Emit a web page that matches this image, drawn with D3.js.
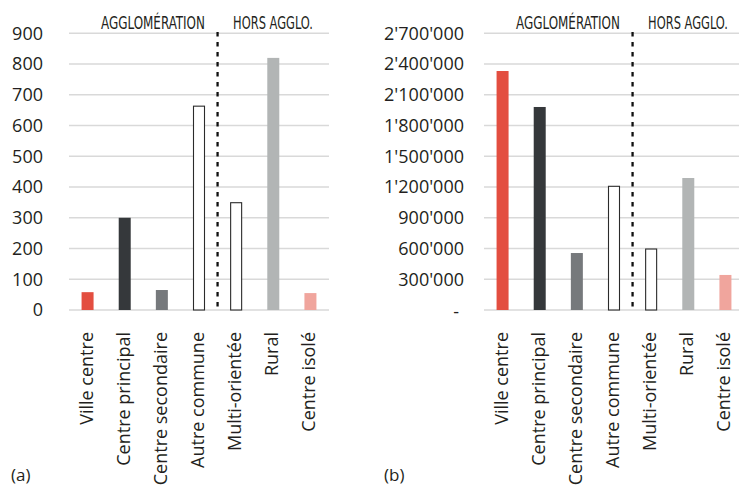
<!DOCTYPE html>
<html>
<head>
<meta charset="utf-8">
<script src="https://cdn.jsdelivr.net/npm/d3@7"></script>
<style>
  html, body { margin: 0; padding: 0; background: #fff; }
  svg { display: block; }
  text { font-family: "Open Sans", "Noto Sans", sans-serif; fill: #231f20; }
  .hdr { font-family: "Liberation Sans Narrow", "DejaVu Sans Condensed", "Roboto", sans-serif; }
</style>
</head>
<body>
<svg id="chart" width="739" height="488"></svg>
<script>
// Commune types, split into agglomeration and outside-agglomeration groups
const categories = ["Ville centre", "Centre principal", "Centre secondaire", "Autre commune",
                    "Multi-orientée", "Rural", "Centre isolé"];
const groupLabels = ["AGGLOMÉRATION", "HORS AGGLO."];
const agglomerationCount = 4;

// (a) number of communes, (b) population
const countValues = [58, 300, 65, 663, 349, 820, 55];
const populationValues = [2332000, 1981000, 556000, 1207000, 595000, 1288000, 342000];

const countTicks = [0, 100, 200, 300, 400, 500, 600, 700, 800, 900];
const populationTicks = [0, 300000, 600000, 900000, 1200000, 1500000, 1800000, 2100000, 2400000, 2700000];
const panelLabels = ["(a)", "(b)"];

const fills = ["#e34e40", "#35383b", "#76797c", "#ffffff", "#ffffff", "#b2b5b5", "#f0a59d"];
const outlined = [false, false, false, true, true, false, false];

const svg = d3.select("#chart");
const swiss = d3.formatLocale({ decimal: ".", thousands: "'", grouping: [3], currency: ["", ""] });
const fmtPop = v => v === 0 ? "-" : swiss.format(",")(v);

// condensed header: squeeze horizontally to a given width
function header(g, label, x0, width) {
  const t = g.append("text").attr("class", "hdr").attr("x", 0).attr("y", 0)
    .style("font-size", "17.5px").text(label);
  const natural = t.node().getComputedTextLength();
  t.attr("transform", `translate(${x0},29) scale(${width / natural},1)`);
}

function panel(opts) {
  const g = svg.append("g");
  const x = d3.scaleBand().domain(categories).range([opts.left, opts.left + 260])
    .paddingInner(1 - 12 / (260 / 7)).paddingOuter((1 - 12 / (260 / 7)) / 2);
  const y = d3.scaleLinear().domain([0, opts.max]).range([310, 33.3]);

  // horizontal gridlines
  g.append("g").selectAll("line").data(opts.ticks).join("line")
    .attr("x1", opts.left).attr("x2", opts.left + 260)
    .attr("y1", d => y(d)).attr("y2", d => y(d))
    .attr("stroke", "#d9d9d9").attr("stroke-width", 1.4);

  // y axis labels
  const ax = g.append("g").attr("transform", `translate(${opts.left},0)`)
    .call(d3.axisLeft(y).tickValues(opts.ticks).tickSize(0).tickPadding(opts.pad).tickFormat(opts.fmt));
  ax.select(".domain").remove();
  ax.selectAll("text").style("font-size", "18px").style("font-family", "'Open Sans', sans-serif")
    .attr("fill", "#231f20");
  ax.selectAll(".tick").filter(d => d === 0 && opts.dashZero)
    .select("text").attr("dx", -5).attr("dy", "0.42em");

  // bars
  g.append("g").selectAll("rect").data(opts.values).join("rect")
    .attr("x", (d, i) => x(categories[i]) + (outlined[i] ? 0.5 : 0))
    .attr("width", (d, i) => x.bandwidth() - (outlined[i] ? 1 : 0))
    .attr("y", d => y(d))
    .attr("height", d => y(0) - y(d))
    .attr("fill", (d, i) => fills[i])
    .attr("stroke", (d, i) => outlined[i] ? "#2b2b2b" : "none")
    .attr("stroke-width", 1.1);

  // divider between groups
  const step = x.step();
  const divX = x(categories[agglomerationCount]) - (step - x.bandwidth()) / 2;
  g.append("line").attr("x1", divX).attr("x2", divX).attr("y1", 32).attr("y2", 310)
    .attr("stroke", "#111").attr("stroke-width", 2.3).attr("stroke-dasharray", "4.5,5.5");

  // group headers
  header(g, groupLabels[0], divX - 116.5, 104);
  header(g, groupLabels[1], divX + 15.5, 80);

  // category labels
  g.append("g").selectAll("text").data(categories).join("text")
    .attr("transform", d => `translate(${x(d) + x.bandwidth() / 2 + 5},332) rotate(-90)`)
    .attr("text-anchor", "end")
    .style("font-size", "18px")
    .text(d => d);

  // panel letter
  g.append("text").attr("x", opts.letterX).attr("y", 481).style("font-size", "17px").text(opts.letter);
}

panel({ left: 69, max: 900, ticks: countTicks, values: countValues, pad: 26,
        fmt: d3.format("d"), dashZero: false, letter: panelLabels[0], letterX: 11 });
panel({ left: 484, max: 2700000, ticks: populationTicks, values: populationValues, pad: 20,
        fmt: fmtPop, dashZero: true, letter: panelLabels[1], letterX: 384 });
</script>
</body>
</html>
